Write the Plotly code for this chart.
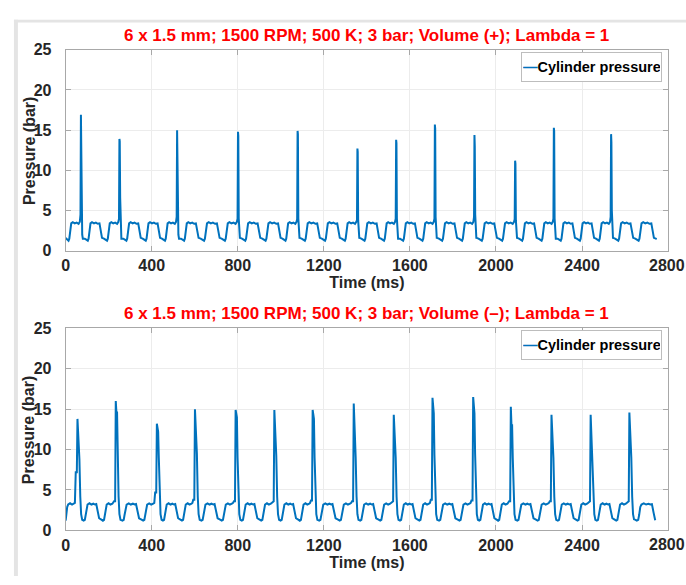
import plotly.graph_objects as go

W, H = 686, 585
FONT = "Liberation Sans, Arial, sans-serif"
LINE = "#0072BD"

# ---------------- data ----------------
x_ticks = [0, 400, 800, 1200, 1600, 2000, 2400, 2800]
y_ticks = [0, 5, 10, 15, 20, 25]
titles = ["6 x 1.5 mm; 1500 RPM; 500 K; 3 bar; Volume (+); Lambda = 1",
          "6 x 1.5 mm; 1500 RPM; 500 K; 3 bar; Volume (–); Lambda = 1"]
series_name = "Cylinder pressure"
x_title = "Time (ms)"
y_title = "Pressure (bar)"

# Top panel, Volume (+): end time (ms) of every plateau/hump
top_unit_end = [71, 160, 250, 340, 430, 518, 608, 706, 801, 895, 990, 1078,
                1172, 1265, 1356, 1448, 1536, 1626, 1716, 1810, 1900, 1995,
                2089, 2180, 2269, 2358, 2447, 2535, 2628, 2725]
top_peak_t = [71, 250, 518, 801, 1078, 1356, 1536, 1716, 1900, 2089, 2269, 2535]
top_peak_p = [16.9, 13.9, 15.0, 14.8, 14.9, 12.7, 13.8, 15.7, 14.4, 11.2, 15.3, 14.5]
top_peak_shoulder = [12.0, 13.6, 12.5, 14.3, 14.5, 12.3, 13.4, 15.2, 13.0, 10.8, 14.9, 13.5]
top_peak_knee_pre = [4.5, 4.0, 4.2, 4.0, 3.9, 3.8, 4.0, 4.0, 4.2, 3.9, 4.0, 4.2]
top_peak_knee_post = [5.4, 6.6, 4.2, 4.0, 4.0, 3.8, 4.0, 4.2, 4.5, 3.8, 4.0, 5.0]
# typical hump of the top trace (fraction of hump, bar)
top_shape_f = [0.0, 0.04, 0.10, 0.20, 0.30, 0.36, 0.40, 0.45, 0.50, 0.58, 0.68, 0.78, 0.88, 0.97]
top_shape_p = [3.35, 2.4, 1.6, 1.5, 1.35, 1.25, 1.5, 2.9, 3.4, 3.55, 3.4, 3.5, 3.35, 3.4]
top_start = (0, 1.6)
top_stop = (2747, 1.45)

# Bottom panel, Volume (-)
bot_unit_end = [55, 145, 233, 330, 424, 512, 601, 695, 790, 880, 970, 1060,
                1148, 1243, 1339, 1432, 1525, 1615, 1705, 1800, 1894, 1982,
                2069, 2163, 2258, 2350, 2440, 2530, 2620, 2728]
bot_peak_t = [55, 233, 424, 601, 790, 970, 1148, 1339, 1525, 1705, 1894, 2069, 2258, 2440, 2620]
bot_peak_p = [13.8, 16.0, 13.2, 15.0, 14.9, 14.9, 14.9, 15.7, 14.3, 16.4, 16.5, 15.3, 14.3, 14.3, 14.6]
bot_peak_shoulder = [12.2, 14.6, 12.2, 13.0, 14.0, 13.0, 13.8, 13.2, 12.2, 14.5, 14.5, 13.0, 12.2, 12.0, 12.8]
bot_peak_pre = [7.2, 3.6, 4.7, 3.8, 3.6, 3.6, 3.7, 3.6, 3.6, 3.8, 3.7, 3.6, 3.6, 3.6, 3.6]
bot_peak_mid = [8.8, 8.9, 9.0, 9.5, 9.0, 9.2, 9.0, 9.0, 9.0, 9.3, 9.5, 9.0, 9.0, 9.0, 9.0]
bot_shape_f = [0.0, 0.05, 0.12, 0.22, 0.32, 0.38, 0.42, 0.47, 0.52, 0.62, 0.72, 0.82, 0.9, 0.97]
bot_shape_p = [3.25, 2.2, 1.5, 1.35, 1.2, 1.3, 1.9, 2.9, 3.2, 3.35, 3.2, 3.3, 3.2, 3.25]
bot_start = (0, 1.2)
bot_stop = (2740, 1.25)


def build(ends, peaks, shape_f, shape_p, off, cols, start, stop, first_len=90):
    ts, ps = [start[0]], [start[1]]
    e0 = ends[0] - first_len
    skip = 0.0
    for e in ends + [ends[-1] + first_len]:
        d = e - e0
        is_peak = e in peaks and e < stop[0]
        limit = e + off[0] if is_peak else e
        for f, v in zip(shape_f, shape_p):
            tt = e0 + f * d
            if tt <= e0 + skip or tt <= ts[-1] or tt >= limit or tt >= stop[0]:
                continue
            ts.append(tt)
            ps.append(v)
        skip = 0.0
        if is_peak:
            i = peaks.index(e)
            for o, c in zip(off, cols):
                ts.append(e + o)
                ps.append(c[i] if isinstance(c, list) else c)
            skip = off[-1]
        e0 = e
    ts.append(stop[0])
    ps.append(stop[1])
    return ts, ps


top_t, top_p = build(top_unit_end, top_peak_t, top_shape_f, top_shape_p,
                     [-5, -2, 0, 1.5, 3.5, 6, 9],
                     [3.6, top_peak_knee_pre, top_peak_p, top_peak_shoulder,
                      top_peak_knee_post, 2.0, 1.5],
                     top_start, top_stop)
bot_t, bot_p = build(bot_unit_end, bot_peak_t, bot_shape_f, bot_shape_p,
                     [-12, -8, -3, 0, 3, 6, 9, 13, 17, 22],
                     [3.4, bot_peak_pre, bot_peak_pre, bot_peak_p, bot_peak_shoulder,
                      bot_peak_shoulder, bot_peak_mid, 4.2, 2.0, 1.3],
                     bot_start, bot_stop)

# ---------------- figure ----------------
fig = go.Figure()
fig.add_trace(go.Scatter(x=top_t, y=top_p, mode="lines", name=series_name,
                         line=dict(color=LINE, width=2), xaxis="x", yaxis="y",
                         showlegend=False))
fig.add_trace(go.Scatter(x=bot_t, y=bot_p, mode="lines", name=series_name,
                         line=dict(color=LINE, width=2), xaxis="x2", yaxis="y2",
                         showlegend=False))

X0, X1 = 62, 668
panels = [(43, 250), (330, 538)]   # top / bottom pixel rows of the plot areas

tickfont = dict(family=FONT, size=16, color="#262626", weight="bold")
titlefont = dict(family=FONT, size=16, color="#262626", weight="bold")
# the last label sits at the very edge of the page; it is drawn as an annotation below
x_ticktext = [str(v) for v in x_ticks[:-1]] + [""]


def xa(anchor):
    return dict(domain=[X0 / W, X1 / W], anchor=anchor, range=[0, 2800],
                tickvals=x_ticks, ticktext=x_ticktext,
                showline=True, linecolor="#a8a8a8", linewidth=1, mirror="ticks",
                ticks="inside", ticklen=5, tickcolor="#a8a8a8",
                showgrid=True, gridcolor="#ececec", zeroline=False,
                tickfont=tickfont,
                title=dict(text=x_title, font=titlefont, standoff=2))


def ya(top, bot, anchor):
    return dict(domain=[1 - bot / H, 1 - top / H], anchor=anchor, range=[0, 25],
                tickvals=y_ticks, ticktext=[str(v) for v in y_ticks],
                showline=True, linecolor="#a8a8a8", linewidth=1, mirror="ticks",
                ticks="inside", ticklen=5, tickcolor="#a8a8a8",
                showgrid=True, gridcolor="#ececec", zeroline=False,
                tickfont=tickfont, ticklabelstandoff=10)


annotations = []
shapes = []
for k, (top, bot) in enumerate(panels):
    xref = "x" if k == 0 else "x2"
    yref = "y domain" if k == 0 else "y2 domain"
    annotations.append(dict(xref="paper", yref="paper", x=(X0 + X1) / 2 / W,
                            y=1 - (top - 15) / H, xanchor="center", yanchor="middle",
                            text=titles[k], showarrow=False,
                            font=dict(family=FONT, size=17, color="#FF0000", weight="bold")))
    annotations.append(dict(xref="paper", yref="paper", x=25 / W,
                            y=1 - (top + bot) / 2 / H, xanchor="center", yanchor="middle",
                            text=y_title, textangle=-90, showarrow=False, font=titlefont))
    annotations.append(dict(xref=xref, yref=yref, x=x_ticks[-1], y=0,
                            xanchor="center", yanchor="top", xshift=-1, yshift=-4,
                            text=str(x_ticks[-1]), showarrow=False, font=tickfont))
    annotations.append(dict(xref="paper", yref="paper", x=662 / W, y=1 - (top + 2) / H,
                            xanchor="right", yanchor="top", showarrow=False,
                            text="<span style='color:%s'>—</span>%s" % (LINE, series_name),
                            font=dict(family=FONT, size=14.5, color="#000000", weight="bold"),
                            bgcolor="#ffffff", bordercolor="#bdbdbd", borderwidth=1,
                            borderpad=1, width=137, height=26, align="left", valign="middle"))

# window frame seen at the left and top edges of the screenshot
shapes.append(dict(type="rect", xref="paper", yref="paper", x0=10 / W, x1=14 / W,
                   y0=0, y1=1 - 12 / H, fillcolor="#e4e4e4", line=dict(width=0), layer="below"))
shapes.append(dict(type="rect", xref="paper", yref="paper", x0=10 / W, x1=1,
                   y0=1 - 15 / H, y1=1 - 12 / H, fillcolor="#e4e4e4", line=dict(width=0), layer="below"))

fig.update_layout(
    width=W, height=H, margin=dict(l=0, r=0, t=0, b=0),
    paper_bgcolor="#ffffff", plot_bgcolor="#ffffff",
    xaxis=xa("y"), yaxis=ya(*panels[0], "x"),
    xaxis2=xa("y2"), yaxis2=ya(*panels[1], "x2"),
    annotations=annotations, shapes=shapes, showlegend=False,
)

fig.write_html("out.html")
